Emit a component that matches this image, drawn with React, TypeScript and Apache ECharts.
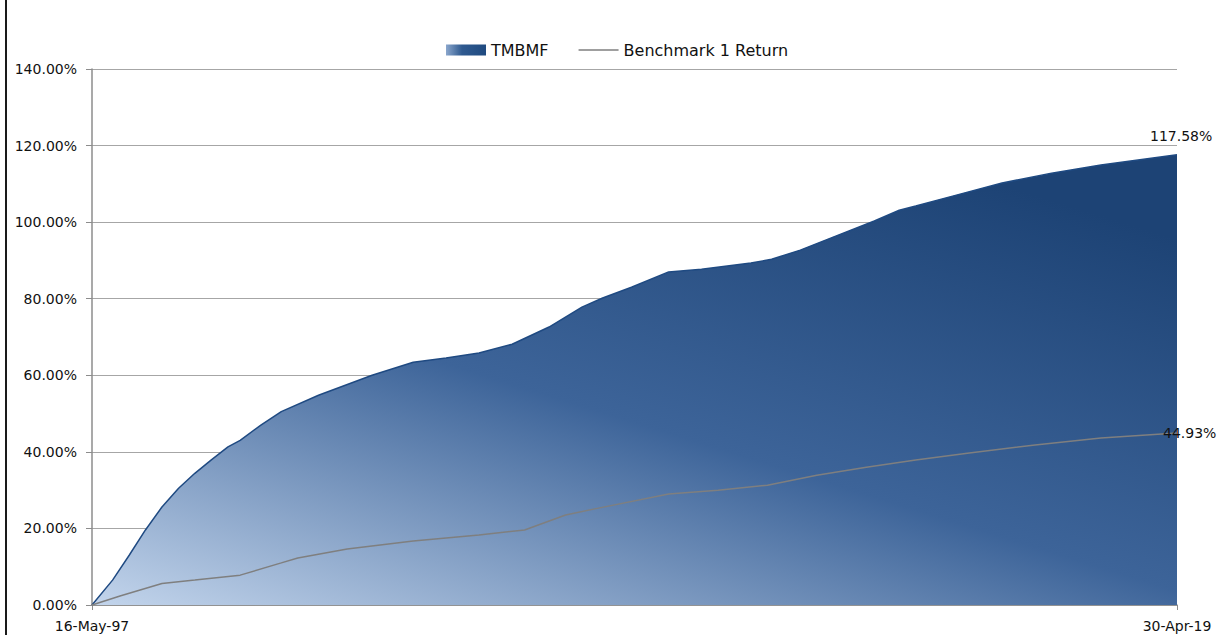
import React, { useEffect, useRef } from "react";
import * as echarts from "echarts";

const startDate = "1997-05-16";
const endDate = "2019-04-30";

const tmbmfDates = [
  "1997-05-16", "1997-10-15", "1998-02-15", "1998-06-15", "1998-10-15", "1999-02-15",
  "1999-06-15", "1999-10-15", "2000-02-15", "2000-05-15", "2000-10-15", "2001-03-15",
  "2001-12-15", "2003-01-15", "2003-11-15", "2004-07-15", "2005-03-15", "2005-11-15",
  "2006-08-15", "2007-04-15", "2007-09-15", "2008-04-15", "2009-01-15", "2009-09-15",
  "2010-09-15", "2011-02-15", "2011-09-15", "2012-05-15", "2013-03-15", "2013-09-15",
  "2014-01-15", "2014-10-15", "2015-10-15", "2016-10-15", "2017-10-15", "2019-04-30",
];
const tmbmfValues = [
  0, 6.5, 13, 19.6, 25.6, 30.5,
  34.4, 37.9, 41.3, 43, 47, 50.5,
  54.8, 60, 63.4, 64.5, 65.8, 68.1,
  72.6, 77.8, 80.2, 83, 87, 87.7,
  89.3, 90.3, 92.7, 96.1, 100.3, 103.1,
  104.2, 106.8, 110.2, 112.8, 114.9, 117.58,
];

const benchDates = [
  "1997-05-16", "1997-12-15", "1998-10-15", "1999-06-15", "2000-05-15", "2001-03-15",
  "2001-07-15", "2002-07-15", "2003-11-15", "2005-03-15", "2006-02-15", "2006-12-15",
  "2007-08-15", "2009-01-15", "2010-01-15", "2011-01-15", "2012-01-15", "2013-01-15",
  "2014-01-15", "2015-02-15", "2016-06-15", "2017-10-15", "2019-04-30",
];
const benchValues = [
  0, 2.4, 5.6, 6.5, 7.8, 11,
  12.3, 14.6, 16.7, 18.3, 19.6, 23.5,
  25.3, 29, 30, 31.3, 33.9, 36,
  37.9, 39.7, 41.8, 43.6, 44.93,
];

const yTicks = [0, 20, 40, 60, 80, 100, 120, 140];
const seriesNames = ["TMBMF", "Benchmark 1 Return"];

const MONTHS = ["Jan", "Feb", "Mar", "Apr", "May", "Jun", "Jul", "Aug", "Sep", "Oct", "Nov", "Dec"];
const ts = (s: string) => {
  const [y, m, d] = s.split("-").map(Number);
  return Date.UTC(y, m - 1, d);
};
const fmtDate = (v: number) => {
  const d = new Date(v);
  return `${d.getUTCDate()}-${MONTHS[d.getUTCMonth()]}-${String(d.getUTCFullYear()).slice(2)}`;
};

const FONT = "DejaVu Sans";

export default function App() {
  const ref = useRef<HTMLDivElement>(null);
  useEffect(() => {
    if (!ref.current) return;
    const chart = echarts.init(ref.current, undefined, { renderer: "svg" });

    const build = (dates: string[], vals: number[]) =>
      dates.map((d, i) => [ts(d), vals[i]]);

    const areaGrad = new echarts.graphic.LinearGradient(0, 1, 0.75, 0, [
      { offset: 0, color: "#c3d5ec" },
      { offset: 0.5, color: "#3d6499" },
      { offset: 1, color: "#1d4375" },
    ]);
    const legendGrad = new echarts.graphic.LinearGradient(0, 0, 1, 0, [
      { offset: 0, color: "#8aa6cc" },
      { offset: 0.4, color: "#2f5a90" },
      { offset: 1, color: "#1f4a80" },
    ]);

    const xEnds = [ts(startDate), ts(endDate)];
    const pct = (p: any) => Number(p.value[1]).toFixed(2) + "%";

    chart.setOption({
      animation: false,
      backgroundColor: "#ffffff",
      textStyle: { fontFamily: FONT },
      grid: { left: 92, right: 48, top: 69, bottom: 30, containLabel: false },
      legend: {
        top: 37,
        left: 441,
        itemWidth: 40,
        itemHeight: 11,
        itemGap: 30,
        textStyle: { fontFamily: FONT, fontSize: 16, color: "#111" },
        data: [
          { name: seriesNames[0], icon: "rect", itemStyle: { color: legendGrad } },
          {
            name: seriesNames[1],
            icon: "path://M0,0 L40,0 L40,1.5 L0,1.5 Z",
            itemStyle: { color: "#7f7f7f", borderWidth: 0 },
          },
        ],
      },
      xAxis: {
        type: "value",
        min: xEnds[0],
        max: xEnds[1],
        scale: true,
        splitLine: { show: false },
        axisLine: { show: true, onZero: false, lineStyle: { color: "#8c8c8c", width: 1.5 } },
        axisTick: {
          show: true,
          length: 5,
          customValues: xEnds,
          lineStyle: { color: "#8c8c8c" },
        },
        axisLabel: {
          customValues: xEnds,
          formatter: (v: number) => fmtDate(v),
          fontFamily: FONT,
          fontSize: 14,
          color: "#111",
          margin: 14,
        },
      },
      yAxis: {
        type: "value",
        min: 0,
        max: 140,
        interval: 20,
        axisLine: { show: true, onZero: false, lineStyle: { color: "#8c8c8c", width: 1.5 } },
        axisTick: { show: true, length: 6, lineStyle: { color: "#8c8c8c" } },
        splitLine: { show: true, lineStyle: { color: "#a6a6a6", width: 1 } },
        axisLabel: {
          formatter: (v: number) => (yTicks.includes(v) ? v.toFixed(2) + "%" : ""),
          fontFamily: FONT,
          fontSize: 14,
          color: "#111",
          margin: 15,
        },
      },
      series: [
        {
          name: seriesNames[0],
          type: "line",
          symbol: "none",
          lineStyle: { color: "#1f4a82", width: 1.5 },
          itemStyle: { color: "#1f4a82" },
          areaStyle: { color: areaGrad, opacity: 1 },
          z: 2,
          endLabel: {
            show: true,
            distance: 0,
            offset: [-27, -19],
            formatter: pct,
            fontFamily: FONT,
            fontSize: 14,
            color: "#111",
          },
          data: build(tmbmfDates, tmbmfValues),
        },
        {
          name: seriesNames[1],
          type: "line",
          symbol: "none",
          lineStyle: { color: "#7f7f7f", width: 1.5 },
          itemStyle: { color: "#7f7f7f" },
          z: 3,
          endLabel: {
            show: true,
            distance: 0,
            offset: [-14, 0],
            formatter: pct,
            fontFamily: FONT,
            fontSize: 14,
            color: "#111",
          },
          data: build(benchDates, benchValues),
        },
      ],
      graphic: [
        { type: "rect", shape: { x: 5, y: 0, width: 2, height: 635 }, style: { fill: "#1a1a1a" }, silent: true },
      ],
    });
    return () => chart.dispose();
  }, []);
  return (
    <div
      ref={ref}
      style={{ position: "absolute", left: 0, top: 0, width: 1225, height: 635 }}
    />
  );
}
